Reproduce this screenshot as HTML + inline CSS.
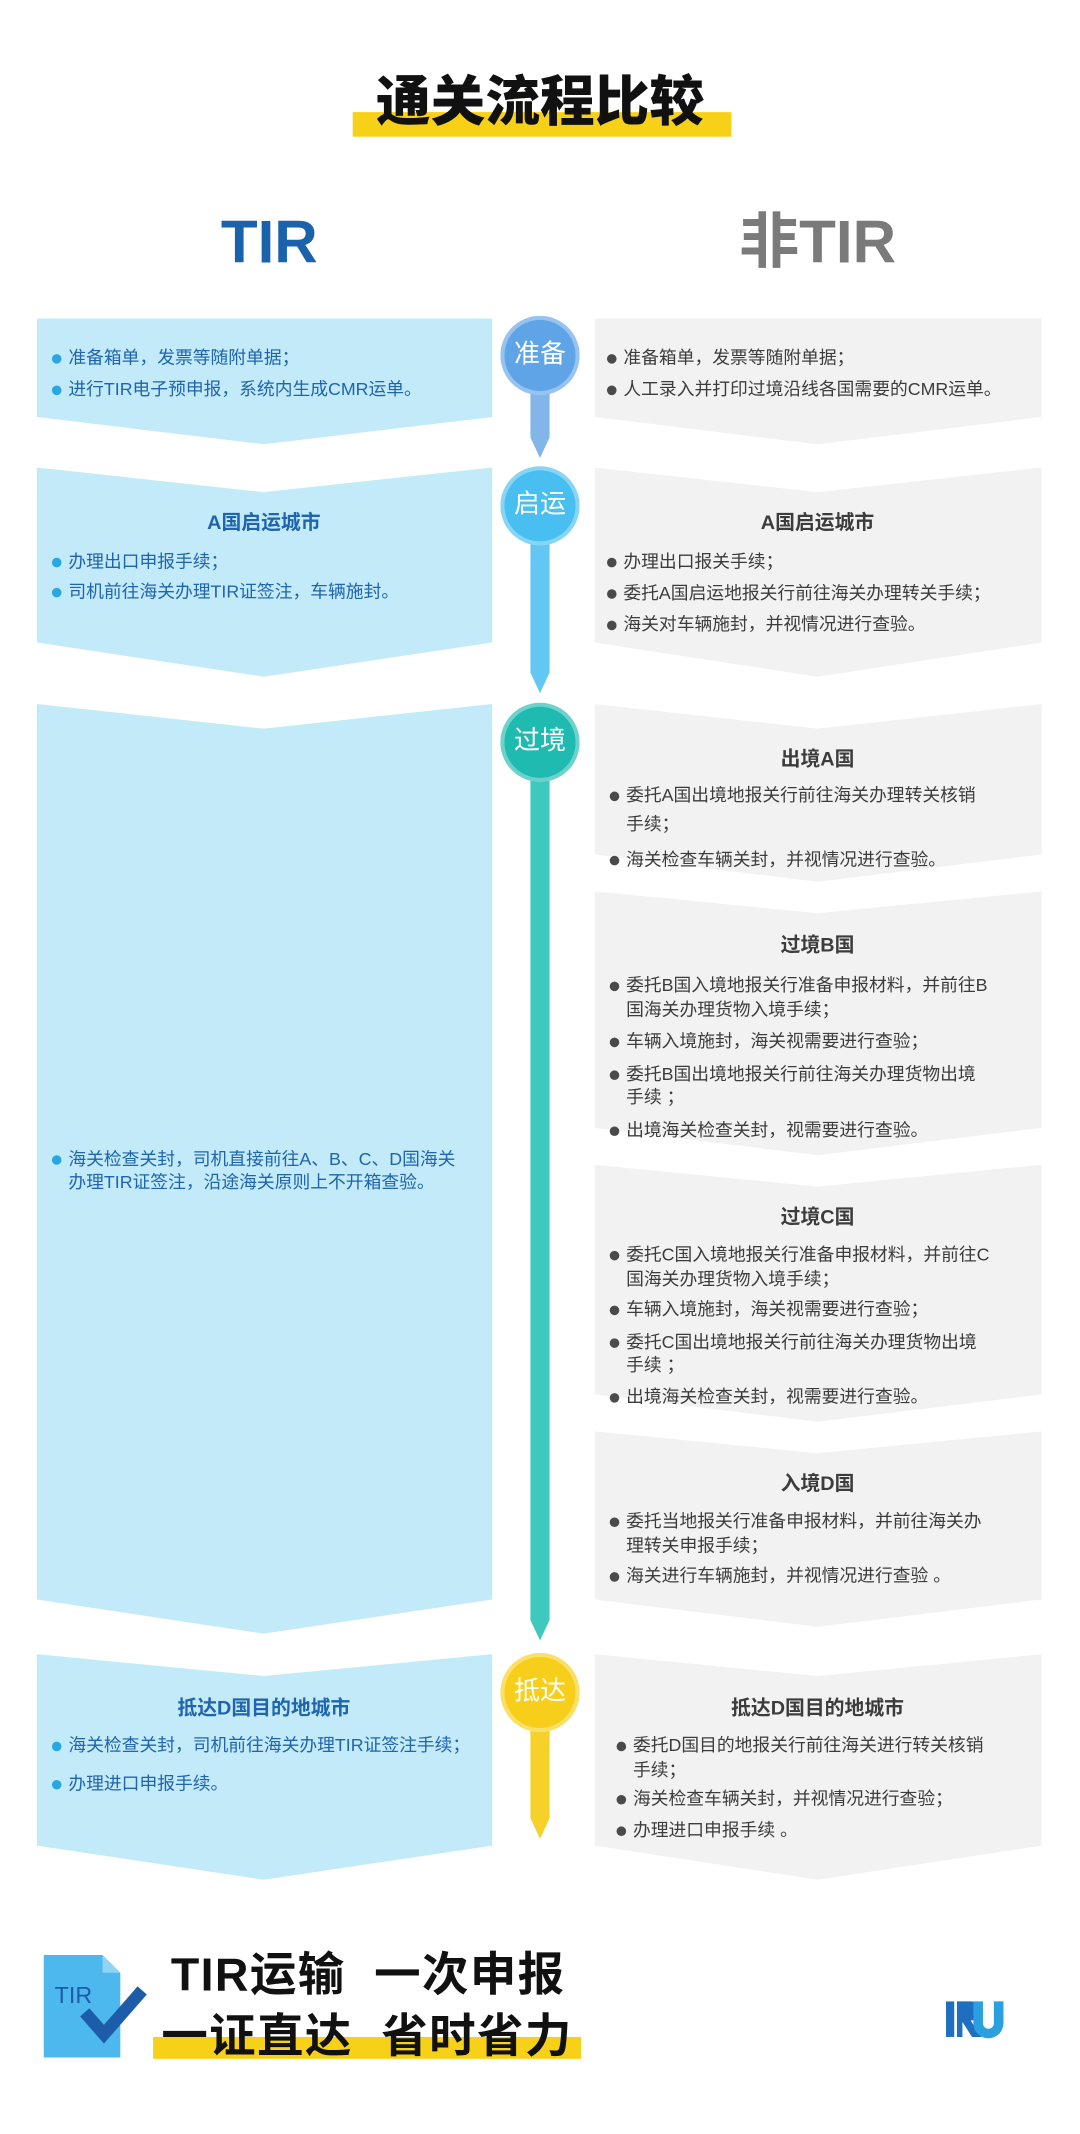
<!DOCTYPE html>
<html><head><meta charset="utf-8">
<style>
html,body{margin:0;padding:0;background:#fff;}
body{width:1080px;height:2134px;overflow:hidden;position:relative;}
#c{position:absolute;left:0;top:0;width:790px;height:1561px;transform:scale(1.36709);transform-origin:0 0;font-family:"Liberation Sans","Noto Sans CJK SC",sans-serif;}
.t{position:absolute;font-size:13px;line-height:18px;white-space:nowrap;}
.L{color:#1f64ad;}
.R{color:#3c3c3c;}
.h{position:absolute;font-size:14.5px;font-weight:bold;line-height:20px;white-space:nowrap;transform:translateX(-50%);}
.bl::before{content:"";position:absolute;left:-12px;top:6px;width:7px;height:7px;border-radius:50%;background:#2aa7e0;}
.br::before{content:"";position:absolute;left:-12px;top:6px;width:7px;height:7px;border-radius:50%;background:#4a4a4a;}
.circ{position:absolute;width:52px;height:52px;border-radius:50%;color:#fff;font-size:19px;line-height:52px;text-align:center;border:3px solid rgba(255,255,255,0.35);}
</style></head><body>
<div id="c">
<svg width="790" height="1561" style="position:absolute;left:0;top:0">
<rect x="258" y="82" width="277" height="18" fill="#f7d117"/>
<g fill="#c2eaf9">
<polygon points="27,233 360,233 360,305 193,325 27,305"/>
<polygon points="27,342 193,360 360,342 360,470 193,495 27,470"/>
<polygon points="27,515 193,533 360,515 360,1170 193,1195 27,1170"/>
<polygon points="27,1210 193,1226 360,1210 360,1350 193,1375 27,1350"/>
</g>
<g fill="#f2f2f2">
<polygon points="435,233 762,233 762,305 598,325 435,305"/>
<polygon points="435,342 598,360 762,342 762,470 598,495 435,470"/>
<polygon points="435,515 598,533 762,515 762,625 598,645 435,625"/>
<polygon points="435,652 598,668 762,652 762,825 598,845 435,825"/>
<polygon points="435,852 598,868 762,852 762,1020 598,1040 435,1020"/>
<polygon points="435,1047 598,1063 762,1047 762,1170 598,1190 435,1170"/>
<polygon points="435,1210 598,1226 762,1210 762,1350 598,1375 435,1350"/>
</g>
<polygon points="388,260 402,260 402,320 395,335 388,320" fill="#82b6e8"/>
<polygon points="388,370 402,370 402,492 395,507 388,492" fill="#62c7f2"/>
<polygon points="388,543 402,543 402,1185 395,1200 388,1185" fill="#3ec8be"/>
<polygon points="388,1238 402,1238 402,1330 395,1345 388,1330" fill="#f6d12a"/>
<polygon points="32,1430 75,1430 88,1443 88,1505 32,1505" fill="#4cb8ee"/>
<polygon points="75,1430 88,1443 75,1443" fill="#8fd3f5"/>
<polyline points="62,1472 76,1488 104,1456" fill="none" stroke="#1d5ca8" stroke-width="9"/>
<rect x="112" y="1490" width="313" height="16" fill="#f7d117"/>
<rect x="692" y="1464" width="6" height="26" fill="#1f6fc0"/>
<path d="M700 1464 h10 a7 7 0 0 1 0 14 l8 12 h-7 l-7 -11 v11 h-4z" fill="#1f6fc0"/>
<path d="M712 1464 h7 v16 a4 4 0 0 0 8 0 v-16 h7 v16 a11 11 0 0 1 -22 0z" fill="#2aa0e0"/>
</svg>

<div style="position:absolute;left:0;width:790px;top:50px;text-align:center;font-size:40px;font-weight:900;line-height:50px;color:#111;">通关流程比较</div>
<div style="position:absolute;left:97px;width:200px;top:152px;text-align:center;font-size:44px;font-weight:bold;line-height:52px;color:#1a62ab;">TIR</div>
<div style="position:absolute;left:498px;width:200px;top:152px;text-align:center;font-size:44px;font-weight:bold;line-height:52px;color:#7a7a7a;">非TIR</div>

<div class="circ" style="left:366px;top:231px;background:#5ea4e6;">准备</div>
<div class="circ" style="left:366px;top:341px;background:#48bff0;">启运</div>
<div class="circ" style="left:366px;top:514px;background:#1fbab0;">过境</div>
<div class="circ" style="left:366px;top:1209px;background:#f7cf1a;">抵达</div>

<div class="t L bl" style="left:50px;top:253px">准备箱单，发票等随附单据；</div>
<div class="t L bl" style="left:50px;top:276px">进行TIR电子预申报，系统内生成CMR运单。</div>
<div class="t R br" style="left:456px;top:253px">准备箱单，发票等随附单据；</div>
<div class="t R br" style="left:456px;top:276px">人工录入并打印过境沿线各国需要的CMR运单。</div>
<div class="h L" style="left:193px;top:373px">A国启运城市</div>
<div class="t L bl" style="left:50px;top:402px">办理出口申报手续；</div>
<div class="t L bl" style="left:50px;top:424px">司机前往海关办理TIR证签注，车辆施封。</div>
<div class="h R" style="left:598px;top:373px">A国启运城市</div>
<div class="t R br" style="left:456px;top:402px">办理出口报关手续；</div>
<div class="t R br" style="left:456px;top:425px">委托A国启运地报关行前往海关办理转关手续；</div>
<div class="t R br" style="left:456px;top:448px">海关对车辆施封，并视情况进行查验。</div>
<div class="t L bl" style="left:50px;top:839px">海关检查关封，司机直接前往A、B、C、D国海关</div>
<div class="t L" style="left:50px;top:856px">办理TIR证签注，沿途海关原则上不开箱查验。</div>
<div class="h R" style="left:598px;top:546px">出境A国</div>
<div class="t R br" style="left:458px;top:573px">委托A国出境地报关行前往海关办理转关核销</div>
<div class="t R" style="left:458px;top:594px">手续；</div>
<div class="t R br" style="left:458px;top:620px">海关检查车辆关封，并视情况进行查验。</div>
<div class="h R" style="left:598px;top:682px">过境B国</div>
<div class="t R br" style="left:458px;top:712px">委托B国入境地报关行准备申报材料，并前往B</div>
<div class="t R" style="left:458px;top:730px">国海关办理货物入境手续；</div>
<div class="t R br" style="left:458px;top:753px">车辆入境施封，海关视需要进行查验；</div>
<div class="t R br" style="left:458px;top:777px">委托B国出境地报关行前往海关办理货物出境</div>
<div class="t R" style="left:458px;top:794px">手续 ；</div>
<div class="t R br" style="left:458px;top:818px">出境海关检查关封，视需要进行查验。</div>
<div class="h R" style="left:598px;top:881px">过境C国</div>
<div class="t R br" style="left:458px;top:909px">委托C国入境地报关行准备申报材料，并前往C</div>
<div class="t R" style="left:458px;top:927px">国海关办理货物入境手续；</div>
<div class="t R br" style="left:458px;top:949px">车辆入境施封，海关视需要进行查验；</div>
<div class="t R br" style="left:458px;top:973px">委托C国出境地报关行前往海关办理货物出境</div>
<div class="t R" style="left:458px;top:990px">手续 ；</div>
<div class="t R br" style="left:458px;top:1013px">出境海关检查关封，视需要进行查验。</div>
<div class="h R" style="left:598px;top:1076px">入境D国</div>
<div class="t R br" style="left:458px;top:1104px">委托当地报关行准备申报材料，并前往海关办</div>
<div class="t R" style="left:458px;top:1122px">理转关申报手续；</div>
<div class="t R br" style="left:458px;top:1144px">海关进行车辆施封，并视情况进行查验 。</div>
<div class="h L" style="left:193px;top:1240px">抵达D国目的地城市</div>
<div class="t L bl" style="left:50px;top:1268px">海关检查关封，司机前往海关办理TIR证签注手续；</div>
<div class="t L bl" style="left:50px;top:1296px">办理进口申报手续。</div>
<div class="h R" style="left:598px;top:1240px">抵达D国目的地城市</div>
<div class="t R br" style="left:463px;top:1268px">委托D国目的地报关行前往海关进行转关核销</div>
<div class="t R" style="left:463px;top:1286px">手续；</div>
<div class="t R br" style="left:463px;top:1307px">海关检查车辆关封，并视情况进行查验；</div>
<div class="t R br" style="left:463px;top:1330px">办理进口申报手续 。</div>

<div style="position:absolute;left:40px;top:1450px;font-size:17px;color:#1d5ca8;line-height:20px;">TIR</div>
<div style="position:absolute;left:125px;top:1424px;font-size:34px;font-weight:bold;line-height:42px;color:#111;letter-spacing:1px;white-space:nowrap;">TIR运输&nbsp;&nbsp;一次申报</div>
<div style="position:absolute;left:118px;top:1469px;font-size:34px;font-weight:bold;line-height:42px;color:#111;letter-spacing:1px;white-space:nowrap;">一证直达&nbsp;&nbsp;省时省力</div>
</div>
</body></html>
